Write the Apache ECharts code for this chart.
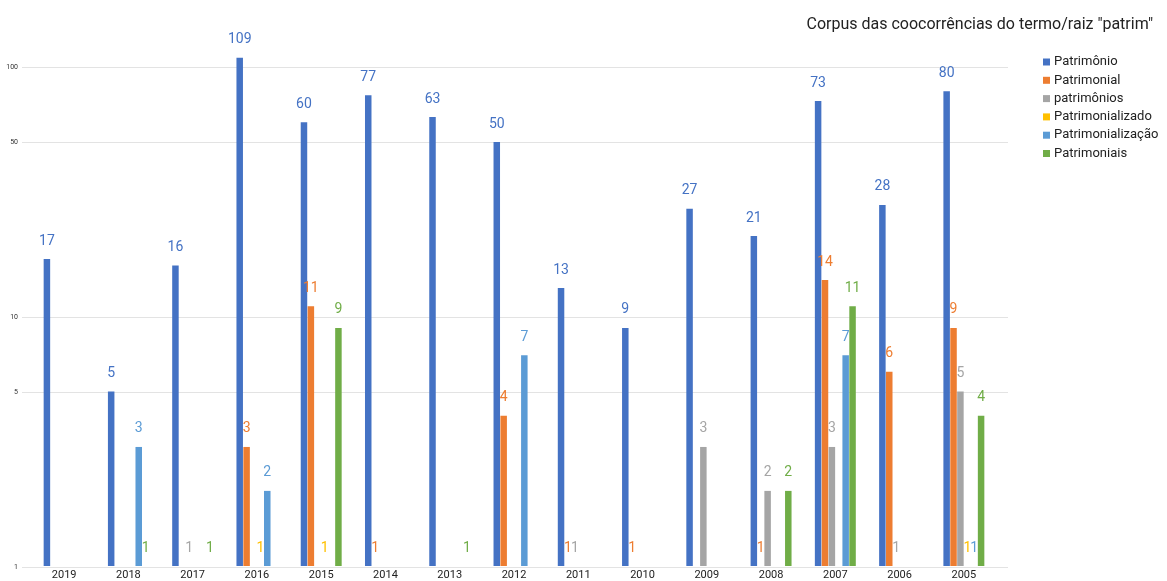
<!DOCTYPE html>
<html>
<head>
<meta charset="utf-8">
<script src="https://cdn.jsdelivr.net/npm/echarts@6/dist/echarts.min.js"></script>
<style>
  html, body { margin: 0; padding: 0; background: #fff; }
  #chart { width: 1167px; height: 581px; }
</style>
</head>
<body>
<div id="chart"></div>
<script>
// Years on the category axis
const years = ['2019','2018','2017','2016','2015','2014','2013','2012','2011','2010','2009','2008','2007','2006','2005'];

// Occurrence counts per term (null = no occurrence)
const patrimonio        = [17, 5, 16, 109, 60, 77, 63, 50, 13, 9, 27, 21, 73, 28, 80];
const patrimonial       = [null, null, null, 3, 11, 1, null, 4, 1, 1, null, 1, 14, 6, 9];
const patrimonios       = [null, null, 1, null, null, null, null, null, 1, null, 3, 2, 3, 1, 5];
const patrimonializado  = [null, null, null, 1, 1, null, null, null, null, null, null, null, null, null, 1];
const patrimonializacao = [null, 3, null, 2, null, null, null, 7, null, null, null, null, 7, null, 1];
const patrimoniais      = [null, 1, 1, null, 9, null, 1, null, null, null, null, 2, 11, null, 4];

// Log-axis ticks
const yTicks = [1, 5, 10, 50, 100];

const seriesDefs = [
  { name: 'Patrimônio',        data: patrimonio,        color: '#4472c4' },
  { name: 'Patrimonial',       data: patrimonial,       color: '#ed7d31' },
  { name: 'patrimônios',       data: patrimonios,       color: '#a5a5a5' },
  { name: 'Patrimonializado',  data: patrimonializado,  color: '#ffc000' },
  { name: 'Patrimonialização', data: patrimonializacao, color: '#5b9bd5' },
  { name: 'Patrimoniais',      data: patrimoniais,      color: '#70ad47' }
];

const chart = echarts.init(document.getElementById('chart'), null, { renderer: 'canvas' });

const font = 'Roboto, Arial, sans-serif';

chart.setOption({
  animation: false,
  backgroundColor: '#fff',
  textStyle: { fontFamily: font },
  title: {
    text: 'Corpus das coocorrências do termo/raiz "patrim"',
    right: 9,
    top: 12,
    textStyle: { fontFamily: font, fontSize: 16, fontWeight: 'normal', color: '#222' }
  },
  legend: {
    orient: 'vertical',
    left: 1038,
    top: 50,
    itemWidth: 7,
    itemHeight: 7,
    itemGap: 4.3,
    icon: 'rect',
    textStyle: { fontFamily: font, fontSize: 13, color: '#222', lineHeight: 14, padding: [0, 0, 0, -1] },
    data: seriesDefs.map(s => s.name)
  },
  grid: [
    // plotting area for the bars
    { left: 32, right: 171, top: 67, height: 500, containLabel: false },
    // wider area carrying the gridlines and value labels
    { left: 22, right: 159, top: 67, height: 500, containLabel: false }
  ],
  xAxis: [
    {
      type: 'category',
      gridIndex: 0,
      data: years,
      axisLine: { show: false },
      axisTick: { show: false },
      axisLabel: { color: '#222', fontSize: 11, margin: 4, fontFamily: font }
    },
    { type: 'value', gridIndex: 1, show: false, min: 0, max: 1 }
  ],
  yAxis: [
    { type: 'log', logBase: 10, gridIndex: 0, min: 1, max: 100, show: false },
    {
      type: 'log', logBase: 10, gridIndex: 1, min: 1, max: 100,
      axisLine: { show: false },
      axisTick: { show: false, customValues: yTicks },
      axisLabel: { customValues: yTicks, fontSize: 7, color: '#333', margin: 4, fontFamily: font },
      splitLine: { show: true, lineStyle: { color: '#e3e3e3', width: 1 } }
    }
  ],
  series: seriesDefs.map(s => ({
    name: s.name,
    type: 'bar',
    xAxisIndex: 0,
    yAxisIndex: 0,
    data: s.data,
    clip: false,
    barWidth: 6.5,
    barGap: '6%',
    barCategoryGap: '35%',
    itemStyle: { color: s.color },
    label: {
      show: true,
      position: 'top',
      distance: 11,
      color: s.color,
      fontSize: 14,
      fontFamily: font
    }
  }))
});
</script>
</body>
</html>
